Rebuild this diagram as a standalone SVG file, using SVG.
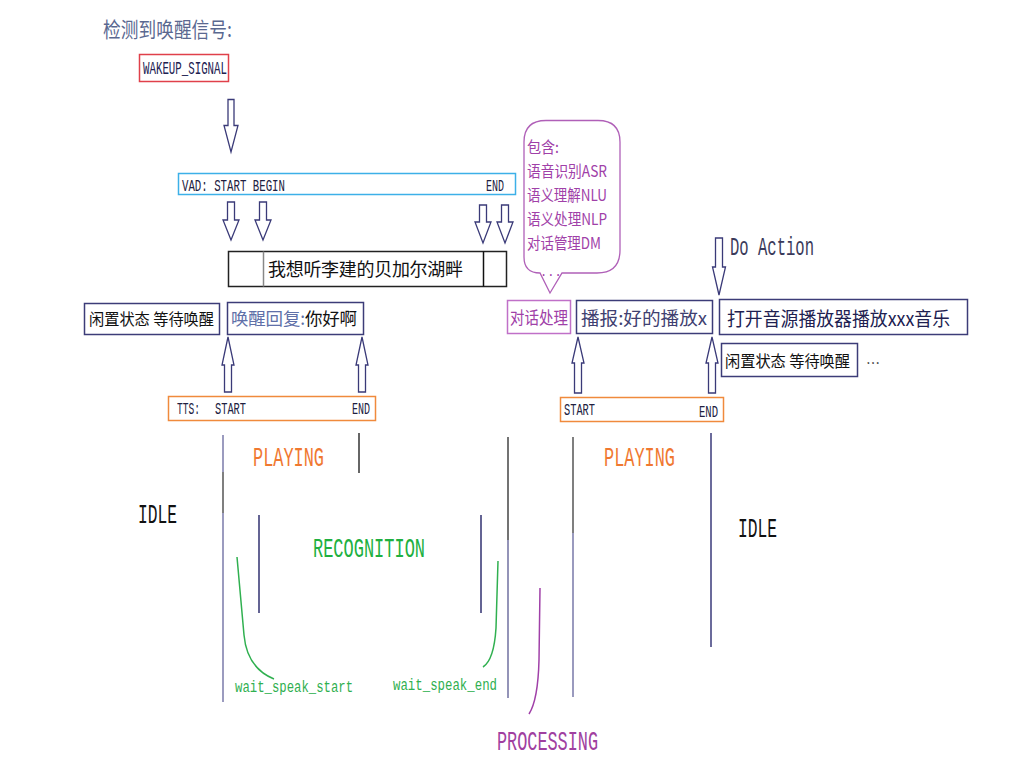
<svg xmlns="http://www.w3.org/2000/svg" width="1030" height="766" viewBox="0 0 1030 766">
<style>
.cjk{font-family:"Noto Sans CJK SC","Noto Sans",sans-serif}
.mono{font-family:"Liberation Mono","DejaVu Sans Mono",monospace}
.box{fill:#fff;stroke:#3c3c78;stroke-width:1.5}
.arr{fill:#fff;stroke:#3a3a78;stroke-width:1.3;stroke-linejoin:miter}
.vl{stroke-width:1.5;fill:none}
</style>
<rect width="1030" height="766" fill="#fff"/>

<g id="title">
<text x="103" y="37" class="cjk" font-size="21" fill="#5a6890" textLength="129" lengthAdjust="spacingAndGlyphs">检测到唤醒信号:</text>
</g>

<g id="wakeup">
<rect x="139.5" y="54.5" width="89" height="27" fill="#fff" stroke="#e0404a" stroke-width="1.5"/>
<text x="143" y="74" class="mono" font-size="18" fill="#202050" textLength="84" lengthAdjust="spacingAndGlyphs">WAKEUP_SIGNAL</text>
</g>

<g id="vad">
<rect x="178.5" y="173.5" width="337" height="21" fill="#fff" stroke="#3cb0e8" stroke-width="1.5"/>
<text x="182" y="191" class="mono" font-size="17" fill="#202040" textLength="103" lengthAdjust="spacingAndGlyphs">VAD: START BEGIN</text>
<text x="486" y="191" class="mono" font-size="17" fill="#202040" textLength="18" lengthAdjust="spacingAndGlyphs">END</text>
</g>

<g id="sentence">
<rect x="228.5" y="251.5" width="278" height="35" fill="#fff" stroke="#222" stroke-width="1.5"/>
<line x1="263.5" y1="251.5" x2="263.5" y2="286.5" stroke="#888" stroke-width="1.5"/>
<line x1="483.5" y1="251.5" x2="483.5" y2="286.5" stroke="#111" stroke-width="1.5"/>
<text x="268" y="276" class="cjk" font-size="18" fill="#111" textLength="195">我想听李建的贝加尔湖畔</text>
</g>

<g id="bubble">
<path d="M546,120.5 H598 Q620,120.5 620,142 V250 Q620,273 597,273 H562 L550,293 L540,273 Q524,273 524,257 V142 Q524,120.5 546,120.5 Z" fill="#fff" stroke="#b060b8" stroke-width="1.3"/>
<g fill="#a040a8" class="cjk" font-size="15.5">
<text x="527" y="153" textLength="32" lengthAdjust="spacingAndGlyphs">包含:</text>
<text x="527" y="177" textLength="80" lengthAdjust="spacingAndGlyphs">语音识别ASR</text>
<text x="527" y="201" textLength="80" lengthAdjust="spacingAndGlyphs">语义理解NLU</text>
<text x="527" y="225" textLength="80" lengthAdjust="spacingAndGlyphs">语义处理NLP</text>
<text x="527" y="249" textLength="74" lengthAdjust="spacingAndGlyphs">对话管理DM</text>
</g>
<text x="540" y="276" class="mono" font-size="12" fill="#a040a8">...</text>
</g>

<g id="dialog">
<rect x="507.5" y="300.5" width="63" height="33" fill="#fff" stroke="#c070c8" stroke-width="1.5"/>
<text x="510" y="324" class="cjk" font-size="17" fill="#a040a8" textLength="58" lengthAdjust="spacingAndGlyphs">对话处理</text>
</g>

<g id="idle1">
<rect x="84.5" y="303.5" width="135" height="31" class="box"/>
<text x="89" y="325" class="cjk" font-size="16" fill="#111" textLength="125" lengthAdjust="spacingAndGlyphs">闲置状态 等待唤醒</text>
</g>

<g id="reply">
<rect x="227.5" y="302.5" width="136" height="32" class="box"/>
<text x="231" y="325" class="cjk" font-size="17.5" fill="#6070a8" textLength="126">唤醒回复:<tspan fill="#111">你好啊</tspan></text>
</g>

<g id="tts1">
<rect x="168.5" y="396.5" width="207" height="24" fill="#fff" stroke="#f08a3c" stroke-width="1.5"/>
<text x="177" y="414" class="mono" font-size="17" fill="#202040" textLength="23" lengthAdjust="spacingAndGlyphs">TTS:</text>
<text x="215" y="414" class="mono" font-size="17" fill="#202040" textLength="31" lengthAdjust="spacingAndGlyphs">START</text>
<text x="352" y="414" class="mono" font-size="17" fill="#202040" textLength="18" lengthAdjust="spacingAndGlyphs">END</text>
</g>

<g id="tts2">
<rect x="560.5" y="397.5" width="163" height="24" fill="#fff" stroke="#f08a3c" stroke-width="1.5"/>
<text x="564" y="415" class="mono" font-size="17" fill="#202040" textLength="31" lengthAdjust="spacingAndGlyphs">START</text>
<text x="699" y="417" class="mono" font-size="17" fill="#202040" textLength="19" lengthAdjust="spacingAndGlyphs">END</text>
</g>

<g id="broadcast">
<rect x="576.5" y="300.5" width="136" height="33" class="box"/>
<text x="581" y="325" class="cjk" font-size="18" fill="#404070" textLength="126" lengthAdjust="spacingAndGlyphs">播报:好的播放x</text>
</g>

<g id="action">
<rect x="719.5" y="299.5" width="248" height="35" class="box"/>
<text x="727" y="326" class="cjk" font-size="19" fill="#202050" textLength="223" lengthAdjust="spacingAndGlyphs">打开音源播放器播放xxx音乐</text>
</g>

<g id="idle2">
<rect x="721.5" y="343.5" width="136" height="33" class="box"/>
<text x="725" y="367" class="cjk" font-size="16" fill="#111" textLength="125" lengthAdjust="spacingAndGlyphs">闲置状态 等待唤醒</text>
<text x="866" y="368" class="cjk" font-size="14" fill="#222">…</text>
</g>

<g id="doaction">
<text x="730" y="255" class="mono" font-size="25" fill="#3a3a5a" textLength="84" lengthAdjust="spacingAndGlyphs">Do Action</text>
</g>

<g id="labels">
<text x="253" y="466" class="mono" font-size="27" fill="#f07830" textLength="71" lengthAdjust="spacingAndGlyphs">PLAYING</text>
<text x="604" y="466" class="mono" font-size="27" fill="#f07830" textLength="71" lengthAdjust="spacingAndGlyphs">PLAYING</text>
<text x="138" y="523" class="mono" font-size="27" fill="#111" textLength="39" lengthAdjust="spacingAndGlyphs">IDLE</text>
<text x="738" y="537" class="mono" font-size="27" fill="#111" textLength="39" lengthAdjust="spacingAndGlyphs">IDLE</text>
<text x="313" y="557" class="mono" font-size="27" fill="#20b040" textLength="112" lengthAdjust="spacingAndGlyphs">RECOGNITION</text>
<text x="235" y="692" class="mono" font-size="16" fill="#30b050" textLength="118" lengthAdjust="spacingAndGlyphs">wait_speak_start</text>
<text x="393" y="690" class="mono" font-size="16" fill="#30b050" textLength="104" lengthAdjust="spacingAndGlyphs">wait_speak_end</text>
<text x="497" y="750" class="mono" font-size="28" fill="#a040a0" textLength="101" lengthAdjust="spacingAndGlyphs">PROCESSING</text>
</g>

<g id="connectors">
<path class="arr" d="M228,99.5 H234 V125.5 H238 L231,152 L224,125.5 H228 Z"/>
<path class="arr" d="M227.5,202 H234.5 V220 H239 L231,240 L223,220 H227.5 Z"/>
<path class="arr" d="M259.5,202 H266.5 V220 H271 L263,240 L255,220 H259.5 Z"/>
<path class="arr" d="M479.5,205 H486.5 V222 H491 L483,243 L475,222 H479.5 Z"/>
<path class="arr" d="M501.5,205 H508.5 V222 H513 L505,243 L497,222 H501.5 Z"/>
<path class="arr" d="M715.5,238 H722.5 V267 H725.5 L719,295 L712.5,267 H715.5 Z"/>
<path class="arr" d="M224.5,392 H231.5 V365 H234 L228,337 L222,365 H224.5 Z"/>
<path class="arr" d="M358.5,392 H365.5 V365 H368 L362,337 L356,365 H358.5 Z"/>
<path class="arr" d="M574.5,393 H581.5 V363 H584 L578,337 L572,363 H574.5 Z"/>
<path class="arr" d="M708.5,393 H715.5 V363 H718 L712,337 L706,363 H708.5 Z"/>
<line class="vl" x1="223" y1="435" x2="223" y2="472" stroke="#7a7aaa"/>
<line class="vl" x1="223" y1="472" x2="223" y2="513" stroke="#555"/>
<line class="vl" x1="223" y1="513" x2="223" y2="702" stroke="#7a7aaa"/>
<line class="vl" x1="359" y1="433" x2="359" y2="473" stroke="#333"/>
<line class="vl" x1="508" y1="437" x2="508" y2="540" stroke="#444"/>
<line class="vl" x1="508" y1="540" x2="508" y2="698" stroke="#7070a0"/>
<line class="vl" x1="573" y1="437" x2="573" y2="533" stroke="#555"/>
<line class="vl" x1="573" y1="533" x2="573" y2="697" stroke="#7878a8"/>
<line class="vl" x1="711" y1="433" x2="711" y2="647" stroke="#3a3a7a"/>
<line class="vl" x1="259" y1="515" x2="259" y2="613" stroke="#303070"/>
<line class="vl" x1="481" y1="515" x2="481" y2="613" stroke="#303070"/>
<path class="vl" d="M237,557 L244,635 Q247,668 274,679" stroke="#30b050" stroke-width="1.2"/>
<path class="vl" d="M498,561 L496,628 Q494,660 483,667" stroke="#30b050" stroke-width="1.2"/>
<path class="vl" d="M540,588 L539,660 Q538,700 529,714" stroke="#a040a8" stroke-width="1.2"/>
</g>
</svg>
